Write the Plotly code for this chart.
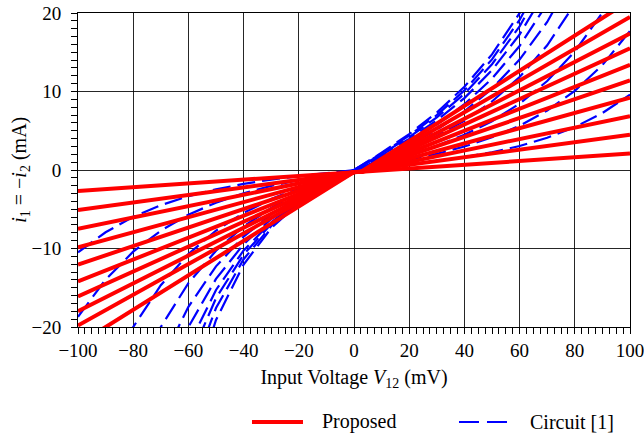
import plotly.graph_objects as go

# ---------------- data ----------------
v_red = [-100, 0, 2.5, 100]
red_neg_end = [-2.66, -5.1, -7.5, -9.85, -12.05, -14.2, -16.1, -18.0, -19.8, -22.2]
red_pos_end = [2.1, 4.5, 6.85, 9.2, 11.4, 13.4, 15.5, 17.4, 19.5, 21.6]
red_knee = -0.25

v_blue = [-100, -90, -80, -70, -60, -50, -40, -30, -20, -10, 0,
          10, 20, 30, 40, 50, 60, 70, 80, 90, 100]
N = None
blue_curves = [
    [-10.49, -7.93, -5.97, -4.48, -3.34, -2.46, -1.77, -1.22, -0.77, -0.37, 0,
     0.34, 0.70, 1.12, 1.63, 2.26, 3.06, 4.11, 5.47, 7.26, 9.61],
    [-18.70, -13.96, -10.40, -7.73, -5.70, -4.16, -2.97, -2.03, -1.27, -0.61, 0,
     0.62, 1.29, 2.06, 2.99, 4.16, 5.64, 7.57, 10.08, 13.37, 17.71],
    [N, -27.2, -20.0, -14.68, -10.71, -7.73, -5.47, -3.71, -2.30, -1.10, 0,
     0.93, 1.94, 3.09, 4.48, 6.22, 8.45, 11.33, 15.09, 20.03, 26.52],
    [N, N, -27.6, -20.0, -14.41, -10.28, -7.19, -4.84, -2.98, -1.42, 0,
     1.31, 2.71, 4.33, 6.28, 8.73, 11.84, 15.88, 21.16, 28.07, N],
    [N, N, N, -24.54, -17.43, -12.27, -8.48, -5.65, -3.45, -1.63, 0,
     1.55, 3.22, 5.14, 7.46, 10.36, 14.07, 18.86, 25.12, N, N],
    [N, N, N, -28.6, -20.0, -13.87, -9.46, -6.22, -3.76, -1.77, 0,
     1.74, 3.62, 5.78, 8.38, 11.64, 15.80, 21.19, 28.22, N, N],
    [N, N, N, N, -22.42, -15.28, -10.25, -6.66, -3.98, -1.86, 0,
     1.90, 3.95, 6.31, 9.16, 12.71, 17.26, 23.14, N, N, N],
    [N, N, N, N, -24.44, -16.33, -10.77, -6.88, -4.07, -1.89, 0,
     2.02, 4.19, 6.69, 9.71, 13.48, 18.30, 24.54, N, N, N],
    [N, N, N, N, -26.92, -17.59, -11.36, -7.13, -4.15, -1.91, 0,
     2.11, 4.38, 6.99, 10.14, 14.09, 19.12, 25.64, N, N, N],
    [N, N, N, N, -30.01, -19.11, -12.04, -7.40, -4.24, -1.92, 0,
     2.20, 4.58, 7.31, 10.60, 14.73, 19.99, 26.80, N, N, N],
]

x_ticks = [-100, -80, -60, -40, -20, 0, 20, 40, 60, 80, 100]
y_ticks = [-20, -10, 0, 10, 20]

RED = "#ff0000"
BLUE = "#0000ff"
FONT = "Liberation Serif"
TICK_SIZE = 19
TEXT_SIZE = 20

fig = go.Figure()

for yb in blue_curves:
    fig.add_trace(go.Scatter(x=v_blue, y=yb, mode="lines",
                             line=dict(color=BLUE, width=2.2, dash="18px,7px"),
                             showlegend=False, hoverinfo="skip"))

for n, p in zip(red_neg_end, red_pos_end):
    fig.add_trace(go.Scatter(x=v_red, y=[n, red_knee, red_knee, p], mode="lines",
                             line=dict(color=RED, width=4),
                             showlegend=False, hoverinfo="skip"))

axis_common = dict(
    showline=True, linecolor="black", linewidth=1, mirror=True,
    showgrid=True, gridcolor="rgba(0,0,0,0.85)", gridwidth=1,
    zeroline=False, automargin=False, ticklabeloverflow="allow",
    ticks="outside", ticklen=6, tickwidth=1, tickcolor="black",
    tickfont=dict(family=FONT, size=TICK_SIZE, color="black"),
)

fig.update_xaxes(range=[-100, 100], tickvals=x_ticks,
                 minor=dict(dtick=2.5, ticks="outside", ticklen=6, tickcolor="black", showgrid=False),
                 title=dict(text="Input Voltage <i>V</i><sub>12</sub> (mV)",
                            font=dict(family=FONT, size=TEXT_SIZE, color="black"), standoff=10),
                 **axis_common)
fig.update_yaxes(range=[-20, 20], tickvals=y_ticks, ticklabelstandoff=6,
                 minor=dict(dtick=1, ticks="outside", ticklen=6, tickcolor="black", showgrid=False),
                 **axis_common)

# y-axis title as rotated text
fig.add_annotation(xref="paper", yref="paper", x=-0.1055, y=0.5, xanchor="center", yanchor="middle",
                   textangle=-90, showarrow=False, borderpad=0,
                   text="<i>i</i><sub>1</sub> = −<i>i</i><sub>2</sub> (mA)",
                   font=dict(family=FONT, size=TEXT_SIZE, color="black"))

# legend drawn as decorations below the plot
ly = -0.3025
fig.add_shape(type="line", xref="paper", yref="paper", x0=0.3152, x1=0.4076, y0=ly, y1=ly,
              line=dict(color=RED, width=4))
fig.add_shape(type="line", xref="paper", yref="paper", x0=0.6902, x1=0.7844, y0=ly, y1=ly,
              line=dict(color=BLUE, width=2.2, dash="20px,8px"))
fig.add_annotation(xref="paper", yref="paper", x=0.4384, y=ly, xanchor="left", yanchor="middle",
                   text="Proposed", showarrow=False, font=dict(family=FONT, size=TEXT_SIZE, color="black"))
fig.add_annotation(xref="paper", yref="paper", x=0.8152, y=ly, xanchor="left", yanchor="middle",
                   text="Circuit [1]", showarrow=False, font=dict(family=FONT, size=TEXT_SIZE, color="black"))

fig.update_layout(width=644, height=437,
                  margin=dict(l=78, r=14, t=13, b=110),
                  paper_bgcolor="white", plot_bgcolor="white",
                  showlegend=False)

# remove the default 8px page margin so the figure fills the window exactly
fig.write_html("out.html",
               config={"displayModeBar": False},
               post_script="document.body.style.margin='0px';document.body.style.overflow='hidden';")
